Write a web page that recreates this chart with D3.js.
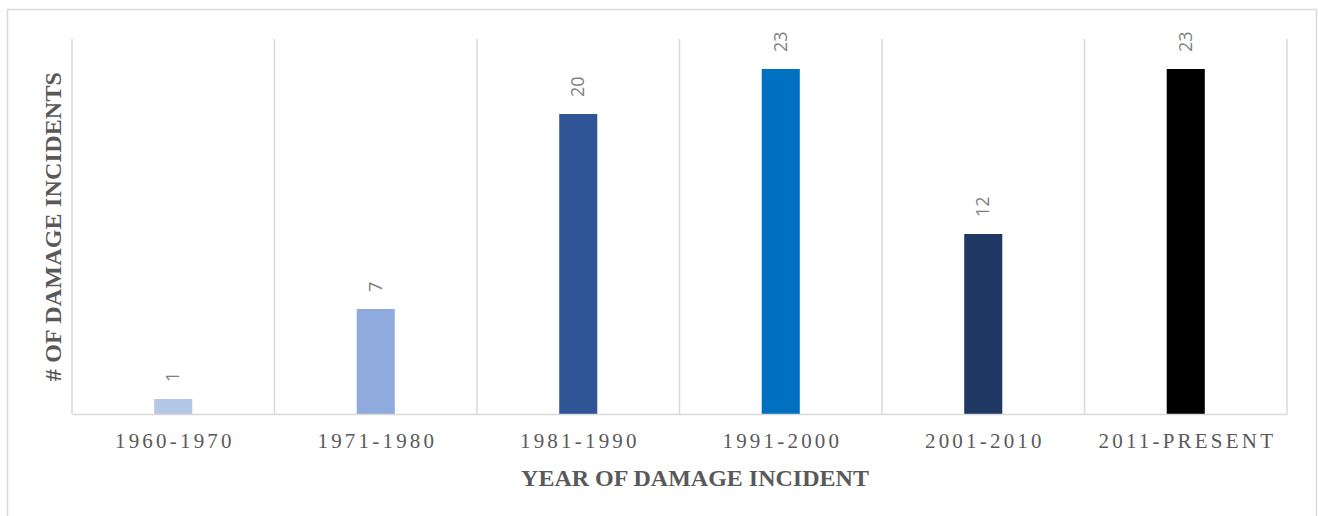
<!DOCTYPE html>
<html>
<head>
<meta charset="utf-8">
<script src="https://cdnjs.cloudflare.com/ajax/libs/d3/7.8.5/d3.min.js"></script>
<style>
  body { margin: 0; background: #fff; }
</style>
</head>
<body>
<div class="chart"></div>
<script>
'use strict';

// data
var periods = ["1960-1970", "1971-1980", "1981-1990", "1991-2000", "2001-2010", "2011-PRESENT"];
var incidents = [1, 7, 20, 23, 12, 23];
var barColors = ["#b4c7e7", "#8faadc", "#2f5597", "#0070c0", "#203864", "#000000"];

var width = 1318;
var height = 516;
var plot = {left: 72, right: 1287, top: 39, bottom: 414};
var gridColor = "#d9d9d9";
var textGray = "#595959";

var svg = d3.select(".chart").append("svg")
    .attr("width", width)
    .attr("height", height);

// outer frame
svg.append("rect")
    .attr("x", 7.5).attr("y", 9.5)
    .attr("width", 1309).attr("height", 520)
    .attr("fill", "none")
    .attr("stroke", gridColor)
    .attr("stroke-width", 1.5);

var x = d3.scaleBand()
    .domain(periods)
    .range([plot.left, plot.right])
    .paddingInner(0)
    .paddingOuter(0);

var y = d3.scaleLinear()
    .domain([0, 25])
    .range([plot.bottom, plot.top]);

// vertical category separators
var edges = periods.map(d => x(d)).concat([plot.right]);
svg.selectAll(".sep")
    .data(edges)
    .enter().append("line")
    .attr("class", "sep")
    .attr("x1", d => d).attr("x2", d => d)
    .attr("y1", plot.top).attr("y2", plot.bottom)
    .attr("stroke", gridColor)
    .attr("stroke-width", 1.5);

var barW = x.bandwidth() * 0.188;

svg.selectAll(".bar")
    .data(periods)
    .enter().append("rect")
    .attr("class", "bar")
    .attr("x", (d) => x(d) + x.bandwidth() / 2 - barW / 2)
    .attr("y", (d, i) => y(incidents[i]))
    .attr("width", barW)
    .attr("height", (d, i) => y(0) - y(incidents[i]))
    .attr("fill", (d, i) => barColors[i]);

// baseline axis
var xAxis = svg.append("g")
    .attr("transform", "translate(0," + plot.bottom + ")")
    .call(d3.axisBottom(x).tickSize(0).tickPadding(19));
xAxis.select(".domain")
    .attr("stroke", gridColor)
    .attr("stroke-width", 1.5);
xAxis.selectAll(".tick text")
    .attr("fill", textGray)
    .attr("font-family", "'Liberation Serif', 'Times New Roman', serif")
    .attr("font-size", "21px")
    .attr("letter-spacing", "3.2px")
    .attr("dx", "1.6px");

// value labels, rotated
svg.selectAll(".val")
    .data(periods)
    .enter().append("text")
    .attr("class", "val")
    .attr("transform", (d, i) => "translate(" + (x(d) + x.bandwidth() / 2 + 6) + "," + (y(incidents[i]) - 17) + ") rotate(-90)")
    .attr("fill", "#7f7f7f")
    .attr("font-family", "'Open Sans', 'Liberation Sans', sans-serif")
    .attr("font-size", "18px")
    .text((d, i) => incidents[i]);

// axis titles
svg.append("text")
    .attr("x", 695)
    .attr("y", 486)
    .attr("text-anchor", "middle")
    .attr("fill", textGray)
    .attr("font-family", "'Liberation Serif', 'Times New Roman', serif")
    .attr("font-weight", "bold")
    .attr("font-size", "24px")
    .text("YEAR OF DAMAGE INCIDENT");

svg.append("text")
    .attr("transform", "translate(61," + ((plot.top + plot.bottom) / 2) + ") rotate(-90)")
    .attr("text-anchor", "middle")
    .attr("fill", textGray)
    .attr("font-family", "'Liberation Serif', 'Times New Roman', serif")
    .attr("font-weight", "bold")
    .attr("font-size", "24px")
    .attr("letter-spacing", "0.2px")
    .text("# OF DAMAGE INCIDENTS");
</script>
</body>
</html>
